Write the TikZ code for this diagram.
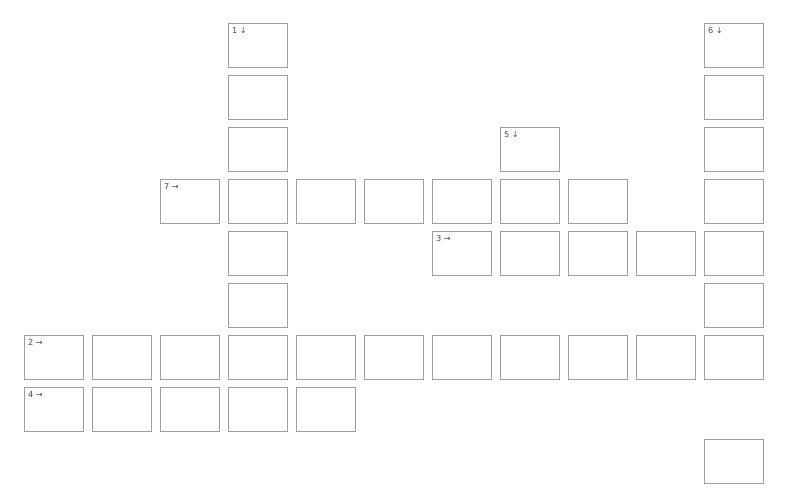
\documentclass[tikz,border=0pt]{standalone}
\usepackage{fontspec}
\setmainfont{DejaVu Sans}
\begin{document}
\begin{tikzpicture}[x=1pt,y=-1pt,
  cell/.style={draw=black!38,line width=0.9pt,minimum width=58.5pt,minimum height=43.5pt,inner sep=0pt,anchor=north west,fill=white},
  num/.style={anchor=north west,inner sep=0pt,font=\fontsize{8.2}{9}\selectfont,text=black!70}]
\useasboundingbox (0,0) rectangle (801,500);
\fill[white] (0,0) rectangle (801,500);
\foreach \c/\r in {3/0,10/0,3/1,10/1,3/2,7/2,10/2,
  2/3,3/3,4/3,5/3,6/3,7/3,8/3,10/3,
  3/4,6/4,7/4,8/4,9/4,10/4,
  3/5,10/5,
  0/6,1/6,2/6,3/6,4/6,5/6,6/6,7/6,8/6,9/6,10/6,
  0/7,1/7,2/7,3/7,4/7,
  10/8}
  \node[cell] (c\c r\r) at ({24+68*\c+0.45},{23+52*\r+0.45}) {};
\foreach \c/\r/\t in {3/0/1 ↓,10/0/6 ↓,7/2/5 ↓,2/3/7 →,6/4/3 →,0/6/2 →,0/7/4 →}
  \node[num] (l\c r\r) at ([xshift=3.5pt,yshift=-3.5pt]c\c r\r.north west) {\t};
\end{tikzpicture}
\end{document}
